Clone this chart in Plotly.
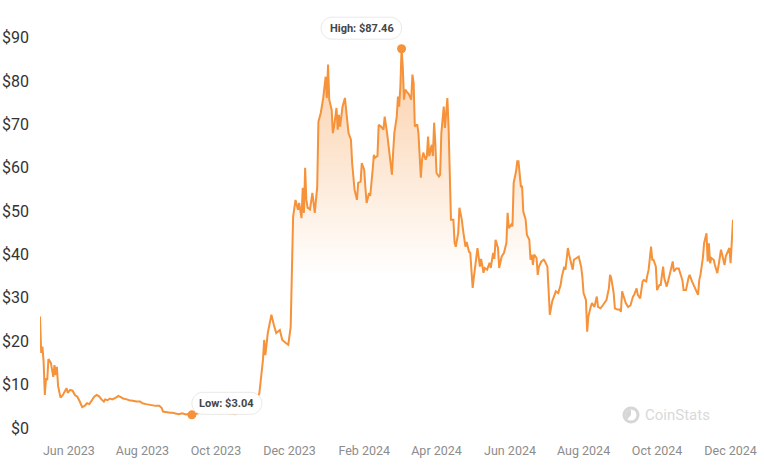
import plotly.graph_objects as go

# ---------------- data ----------------
dates = [
    "2023-05-08", "2023-05-09", "2023-05-10", "2023-05-11", "2023-05-12", "2023-05-13", "2023-05-14",
    "2023-05-15", "2023-05-17", "2023-05-19", "2023-05-20", "2023-05-21", "2023-05-22", "2023-05-23",
    "2023-05-25", "2023-05-27", "2023-05-30", "2023-05-31",
    "2023-06-02", "2023-06-04", "2023-06-06", "2023-06-08", "2023-06-10", "2023-06-12", "2023-06-14",
    "2023-06-16", "2023-06-18", "2023-06-20", "2023-06-22", "2023-06-24", "2023-06-26", "2023-06-28",
    "2023-06-30",
    "2023-07-01", "2023-07-03", "2023-07-05", "2023-07-07", "2023-07-10", "2023-07-12", "2023-07-14",
    "2023-07-16", "2023-07-19", "2023-07-21", "2023-07-24", "2023-07-27", "2023-07-30",
    "2023-08-01", "2023-08-04", "2023-08-07", "2023-08-10", "2023-08-12", "2023-08-15", "2023-08-17",
    "2023-08-18", "2023-08-21", "2023-08-24", "2023-08-26", "2023-08-29", "2023-08-31",
    "2023-09-03", "2023-09-06", "2023-09-08", "2023-09-11", "2023-09-13", "2023-09-16", "2023-09-19",
    "2023-09-21", "2023-09-26", "2023-09-30",
    "2023-10-04", "2023-10-08", "2023-10-12", "2023-10-17", "2023-10-19", "2023-10-22", "2023-10-25",
    "2023-10-29",
    "2023-11-02", "2023-11-06", "2023-11-09", "2023-11-10", "2023-11-11", "2023-11-13", "2023-11-16",
    "2023-11-18", "2023-11-20", "2023-11-23", "2023-11-25", "2023-11-28", "2023-11-30",
    "2023-12-02", "2023-12-03", "2023-12-04", "2023-12-06", "2023-12-08", "2023-12-09", "2023-12-11",
    "2023-12-12", "2023-12-13", "2023-12-14", "2023-12-15", "2023-12-16", "2023-12-18", "2023-12-20",
    "2023-12-21", "2023-12-22", "2023-12-24", "2023-12-25", "2023-12-27", "2023-12-29", "2023-12-31",
    "2024-01-01", "2024-01-02", "2024-01-03", "2024-01-05", "2024-01-06", "2024-01-07", "2024-01-09",
    "2024-01-10", "2024-01-11", "2024-01-12", "2024-01-14", "2024-01-16", "2024-01-17", "2024-01-19",
    "2024-01-21", "2024-01-22", "2024-01-24", "2024-01-26", "2024-01-27", "2024-01-29", "2024-01-30",
    "2024-02-01", "2024-02-02", "2024-02-03", "2024-02-05", "2024-02-06", "2024-02-08", "2024-02-09",
    "2024-02-10", "2024-02-12", "2024-02-13", "2024-02-15", "2024-02-17", "2024-02-18", "2024-02-20",
    "2024-02-21", "2024-02-22", "2024-02-24", "2024-02-25", "2024-02-26", "2024-02-28", "2024-02-29",
    "2024-03-01", "2024-03-02", "2024-03-03", "2024-03-04", "2024-03-05", "2024-03-06", "2024-03-08",
    "2024-03-09", "2024-03-11", "2024-03-12", "2024-03-13", "2024-03-14", "2024-03-16", "2024-03-17",
    "2024-03-19", "2024-03-20", "2024-03-21", "2024-03-23", "2024-03-24", "2024-03-25", "2024-03-26",
    "2024-03-28", "2024-03-29", "2024-03-30", "2024-03-31",
    "2024-04-01", "2024-04-03", "2024-04-04", "2024-04-05", "2024-04-07", "2024-04-08", "2024-04-10",
    "2024-04-11", "2024-04-12", "2024-04-13", "2024-04-15", "2024-04-16", "2024-04-17", "2024-04-19",
    "2024-04-20", "2024-04-22", "2024-04-23", "2024-04-25", "2024-04-26", "2024-04-28", "2024-04-29",
    "2024-05-01", "2024-05-02", "2024-05-04", "2024-05-05", "2024-05-07", "2024-05-08", "2024-05-10",
    "2024-05-11", "2024-05-13", "2024-05-15", "2024-05-16", "2024-05-18", "2024-05-19", "2024-05-20",
    "2024-05-22", "2024-05-23", "2024-05-25", "2024-05-27", "2024-05-29", "2024-05-30", "2024-05-31",
    "2024-06-02", "2024-06-03", "2024-06-04", "2024-06-06", "2024-06-07", "2024-06-08", "2024-06-10",
    "2024-06-11", "2024-06-12", "2024-06-14", "2024-06-15", "2024-06-17", "2024-06-18", "2024-06-19",
    "2024-06-20", "2024-06-21", "2024-06-23", "2024-06-24", "2024-06-25", "2024-06-27", "2024-06-29",
    "2024-06-30",
    "2024-07-02", "2024-07-03", "2024-07-04", "2024-07-06", "2024-07-07", "2024-07-09", "2024-07-11",
    "2024-07-13", "2024-07-14", "2024-07-16", "2024-07-17", "2024-07-19", "2024-07-20", "2024-07-21",
    "2024-07-23", "2024-07-24", "2024-07-26", "2024-07-28", "2024-07-30", "2024-07-31",
    "2024-08-01", "2024-08-03", "2024-08-04", "2024-08-05", "2024-08-07", "2024-08-08", "2024-08-10",
    "2024-08-12", "2024-08-13", "2024-08-15", "2024-08-17", "2024-08-20", "2024-08-22", "2024-08-23",
    "2024-08-24", "2024-08-26", "2024-08-27", "2024-08-29", "2024-08-31",
    "2024-09-01", "2024-09-02", "2024-09-04", "2024-09-05", "2024-09-07", "2024-09-09", "2024-09-11",
    "2024-09-12", "2024-09-14", "2024-09-15", "2024-09-17", "2024-09-19", "2024-09-20", "2024-09-22",
    "2024-09-23", "2024-09-24", "2024-09-26", "2024-09-27", "2024-09-28", "2024-09-30",
    "2024-10-01", "2024-10-03", "2024-10-04", "2024-10-06", "2024-10-07", "2024-10-09", "2024-10-11",
    "2024-10-12", "2024-10-14", "2024-10-15", "2024-10-17", "2024-10-19", "2024-10-21", "2024-10-22",
    "2024-10-23", "2024-10-25", "2024-10-27", "2024-10-28", "2024-10-30",
    "2024-11-01", "2024-11-02", "2024-11-04", "2024-11-05", "2024-11-06", "2024-11-08", "2024-11-09",
    "2024-11-11", "2024-11-12", "2024-11-13", "2024-11-14", "2024-11-15", "2024-11-17", "2024-11-18",
    "2024-11-20", "2024-11-22", "2024-11-23", "2024-11-24", "2024-11-26", "2024-11-27", "2024-11-29",
    "2024-11-30",
    "2024-12-01", "2024-12-02", "2024-12-03",
]

prices = [
    25.7, 17.3, 18.8, 15.3, 7.6, 11.5, 11.0,
    15.9, 15.0, 11.8, 14.5, 12.2, 14.1, 9.7,
    7.0, 7.6, 9.2, 8.1,
    8.8, 8.6, 7.6, 7.2, 6.1, 4.8, 5.1,
    5.7, 5.5, 6.5, 7.2, 7.6, 7.3, 6.6,
    6.1,
    6.6, 6.4, 6.8, 6.6, 7.0, 7.4, 7.1,
    6.8, 6.6, 6.4, 6.3, 6.1, 6.1,
    5.7, 5.5, 5.3, 5.2, 5.1, 5.1, 4.6,
    3.8, 3.6, 3.5, 3.5, 3.4, 3.2,
    3.4, 3.1, 3.2, 3.04, 3.1, 3.4, 3.4,
    3.5, 3.6, 3.5,
    3.4, 3.5, 3.3, 3.2, 3.4, 4.0, 4.4,
    4.8,
    5.6, 8.0, 15.7, 20.3, 16.8, 21.9, 26.1,
    23.8, 21.9, 22.6, 20.3, 19.6, 19.2,
    23.3, 37.2, 48.7, 52.6, 50.3, 51.9, 48.4,
    55.4, 49.6, 60.0, 52.6, 50.8, 50.4, 54.2,
    51.5, 49.6, 55.6, 70.6, 72.7, 76.1, 81.0,
    76.1, 83.8, 75.7, 73.4, 68.0, 69.5, 73.8,
    68.8, 72.2, 69.5, 74.1, 76.1, 72.7, 68.0,
    66.5, 61.1, 54.9, 52.6, 56.5, 56.8, 61.1,
    59.5, 55.4, 51.9, 54.2, 53.5, 59.5, 63.0,
    62.3, 62.7, 69.9, 69.5, 68.8, 71.8, 68.0,
    65.8, 62.5, 58.4, 63.5, 68.0, 71.8, 76.4,
    74.1, 78.7, 87.46, 83.3, 75.7, 78.0, 77.3,
    77.0, 75.7, 81.5, 79.6, 69.5, 70.0, 68.0,
    57.7, 61.9, 63.5, 61.9, 62.7, 67.2, 62.7,
    65.3, 62.7, 70.4, 65.8,
    58.8, 58.0, 58.4, 68.0, 74.1, 69.2, 76.1,
    69.5, 58.8, 48.0, 48.0, 42.7, 41.8, 45.0,
    50.8, 48.0, 45.7, 41.8, 42.9, 40.6, 40.4,
    32.3, 34.8, 40.4, 41.5, 37.2, 39.0, 35.8,
    36.9, 36.5, 38.1, 36.9, 40.4, 39.0, 43.4,
    41.5, 36.9, 39.5, 40.4, 42.7, 49.6, 46.1,
    46.9, 46.5, 56.5, 59.2, 61.5, 61.5, 55.7,
    55.7, 49.9, 48.0, 44.5, 43.4, 38.8, 40.0,
    37.6, 40.0, 39.2, 35.3, 37.2, 38.4, 38.8,
    38.4,
    37.2, 31.8, 26.1, 29.2, 30.0, 31.5, 31.1,
    33.0, 34.9, 37.2, 36.5, 41.5, 40.0, 38.8,
    36.5, 38.8, 39.2, 39.5, 37.2, 34.9,
    31.1, 29.5, 22.2, 25.7, 28.0, 28.8, 27.9,
    30.3, 27.9, 27.6, 28.3, 29.5, 32.2, 35.3,
    34.5, 31.1, 27.6, 27.3, 27.3,
    26.8, 31.5, 30.0, 28.8, 27.9, 28.3, 30.3,
    30.7, 32.2, 30.7, 29.9, 33.8, 34.1, 33.8,
    35.3, 36.5, 41.8, 38.8, 38.8, 37.2,
    31.8, 33.0, 33.0, 37.2, 34.5, 32.6, 34.8,
    36.1, 38.4, 36.1, 36.8, 36.8, 34.9, 34.1,
    31.8, 31.8, 34.5, 35.3, 33.8,
    32.6, 32.2, 30.7, 34.1, 35.3, 39.2, 42.6,
    44.9, 38.4, 42.6, 38.0, 39.2, 38.8, 37.6,
    35.7, 39.2, 41.1, 40.0, 37.6, 39.6, 41.1,
    41.5,
    38.0, 42.6, 48.0,
]

low_date, low_price = "2023-09-11", 3.04
high_date, high_price = "2024-03-03", 87.46
low_label = "Low: $3.04"
high_label = "High: $87.46"

y_tick_values = [0, 10, 20, 30, 40, 50, 60, 70, 80, 90]
y_tick_labels = ["$0", "$10", "$20", "$30", "$40", "$50", "$60", "$70", "$80", "$90"]

watermark_text = "CoinStats"

# ---------------- styling ----------------
ORANGE = "#f5923a"
FONT = "Roboto"

fig = go.Figure()

fig.add_trace(go.Scatter(
    x=dates, y=prices, mode="lines",
    line=dict(color=ORANGE, width=2),
    fill="tozeroy",
    fillgradient=dict(
        type="vertical",
        colorscale=[[0, "rgba(245,146,58,0)"], [1, "rgba(245,146,58,0.45)"]],
        start=35, stop=87.5,
    ),
    hoverinfo="skip",
))

fig.add_trace(go.Scatter(
    x=[low_date, high_date], y=[low_price, high_price], mode="markers",
    marker=dict(color=ORANGE, size=9, line=dict(width=0)),
    cliponaxis=False, hoverinfo="skip",
))


def pill_path(x0, x1, yb, yt):
    """Rounded (pill) rectangle in pixel offsets; y offsets measured upward."""
    r = (yt - yb) / 2.0
    k = 0.5523 * r
    ym = (yt + yb) / 2.0
    return (
        f"M {x0 + r},{yb} L {x1 - r},{yb} "
        f"C {x1 - r + k},{yb} {x1},{ym - k} {x1},{ym} "
        f"C {x1},{ym + k} {x1 - r + k},{yt} {x1 - r},{yt} "
        f"L {x0 + r},{yt} "
        f"C {x0 + r - k},{yt} {x0},{ym + k} {x0},{ym} "
        f"C {x0},{ym - k} {x0 + r - k},{yb} {x0 + r},{yb} Z"
    )


box_style = dict(type="path", xref="x", yref="y", xsizemode="pixel", ysizemode="pixel",
                 fillcolor="white", line=dict(color="#e9e9e9", width=1), layer="above")

shapes = [
    dict(box_style, xanchor=high_date, yanchor=high_price, path=pill_path(-80.5, 0, 9.5, 31.5)),
    dict(box_style, xanchor=low_date, yanchor=low_price, path=pill_path(0, 70, 0.5, 22.5)),
]

# CoinStats logo (light grey)
LOGO = "#d6d6d6"
logo_anchor = dict(xref="paper", yref="paper", xsizemode="pixel", ysizemode="pixel",
                   xanchor=0.8528, yanchor=0.0612, layer="above")
shapes.append(dict(logo_anchor, type="circle", x0=-8.5, x1=8.5, y0=-8.5, y1=8.5,
                   fillcolor=LOGO, line=dict(width=0)))
shapes.append(dict(logo_anchor, type="circle", x0=-5.5, x1=5.5, y0=-5.5, y1=5.5,
                   fillcolor="white", line=dict(width=0)))
shapes.append(dict(logo_anchor, type="path",
                   path="M 0,0 L 0,5.6 C -3.1,5.6 -5.6,3.1 -5.6,0 C -5.6,-1.8 -4.8,-3.3 -3.6,-4.3 Z",
                   fillcolor=LOGO, line=dict(width=0)))

annotations = [
    dict(x=high_date, y=high_price, xref="x", yref="y", text=f"<b>{high_label}</b>",
         showarrow=False, xshift=-40, yshift=20.5,
         font=dict(family=FONT, size=11, color="#454545")),
    dict(x=low_date, y=low_price, xref="x", yref="y", text=f"<b>{low_label}</b>",
         showarrow=False, xshift=35, yshift=11.5,
         font=dict(family=FONT, size=11, color="#454545")),
    dict(x=0.870, y=0.0612, xref="paper", yref="paper", text=watermark_text,
         showarrow=False, xanchor="left", yanchor="middle",
         font=dict(family=FONT, size=15, color="#d9d9d9")),
]

fig.update_layout(
    width=764, height=472,
    margin=dict(l=40, r=31, t=16, b=31, pad=0, autoexpand=False),
    paper_bgcolor="white", plot_bgcolor="white",
    showlegend=False,
    shapes=shapes,
    annotations=annotations,
    xaxis=dict(
        type="date",
        range=["2023-05-08", "2024-12-03"],
        tick0="2023-06-01", dtick="M2", tickformat="%b %Y",
        showgrid=False, zeroline=False, showline=False, ticks="",
        tickfont=dict(family=FONT, size=12.5, color="#8c8c8c"),
        automargin=False,
        fixedrange=True,
    ),
    yaxis=dict(
        range=[-3, 95],
        tickvals=y_tick_values, ticktext=y_tick_labels,
        showgrid=False, zeroline=False, showline=False, ticks="",
        tickfont=dict(family=FONT, size=16, color="#333333"),
        ticklabelstandoff=10,
        automargin=False,
        fixedrange=True,
    ),
)

fig.write_html("out.html", config={"displayModeBar": False})
